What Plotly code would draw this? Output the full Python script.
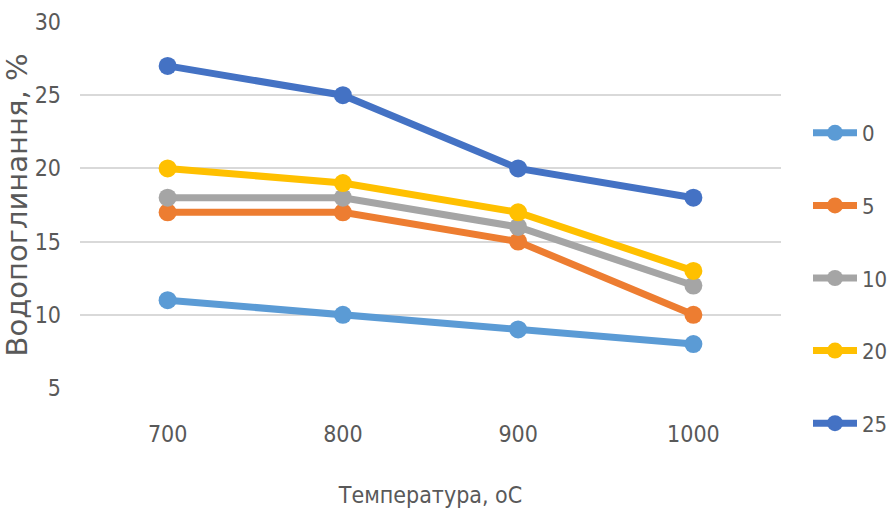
import plotly.graph_objects as go

temperatures = ["700", "800", "900", "1000"]
series_names = ["0", "5", "10", "20", "25"]
absorption_0 = [11, 10, 9, 8]
absorption_5 = [17, 17, 15, 10]
absorption_10 = [18, 18, 16, 12]
absorption_20 = [20, 19, 17, 13]
absorption_25 = [27, 25, 20, 18]
colors = ["#5B9BD5", "#ED7D31", "#A5A5A5", "#FFC000", "#4472C4"]

all_series = [absorption_0, absorption_5, absorption_10, absorption_20, absorption_25]

narrow = "DejaVu Sans Condensed, Liberation Sans, sans-serif"
text_color = "#595959"

fig = go.Figure()
for name, values, color in zip(series_names, all_series, colors):
    fig.add_trace(go.Scatter(
        x=temperatures, y=values, name=name, legendgroup=name,
        mode="lines+markers",
        line=dict(color=color, width=7),
        marker=dict(color=color, size=18),
    ))

fig.update_layout(
    width=889, height=512,
    margin=dict(l=80, r=108, t=22, b=124, autoexpand=False),
    paper_bgcolor="white", plot_bgcolor="white",
    showlegend=True,
    legend=dict(
        x=808 / 889, y=1 - 112 / 512, xref="container", yref="container",
        xanchor="left", yanchor="top", maxheight=500,
        font=dict(family=narrow, size=22, color=text_color),
        tracegroupgap=41, itemwidth=44,
        bgcolor="rgba(0,0,0,0)",
    ),
    xaxis=dict(
        type="category", range=[-0.5, 3.5], automargin=False,
        showgrid=False, showline=False, zeroline=False, ticks="",
        tickfont=dict(family=narrow, size=23, color=text_color),
        ticklabelstandoff=30,
        title=dict(text="Температура, оС", standoff=40,
                   font=dict(family=narrow, size=23, color=text_color)),
    ),
    yaxis=dict(
        range=[5, 30], dtick=5, tick0=0, automargin=False,
        showgrid=True, gridcolor="#D9D9D9", gridwidth=1.5,
        zeroline=False, showline=False, ticks="",
        tickfont=dict(family=narrow, size=23, color=text_color),
        ticklabelstandoff=18,
        title=dict(text="Водопоглинання, %", standoff=12,
                   font=dict(family="DejaVu Sans, sans-serif", size=29, color=text_color)),
    ),
)

fig.write_html("out.html")
